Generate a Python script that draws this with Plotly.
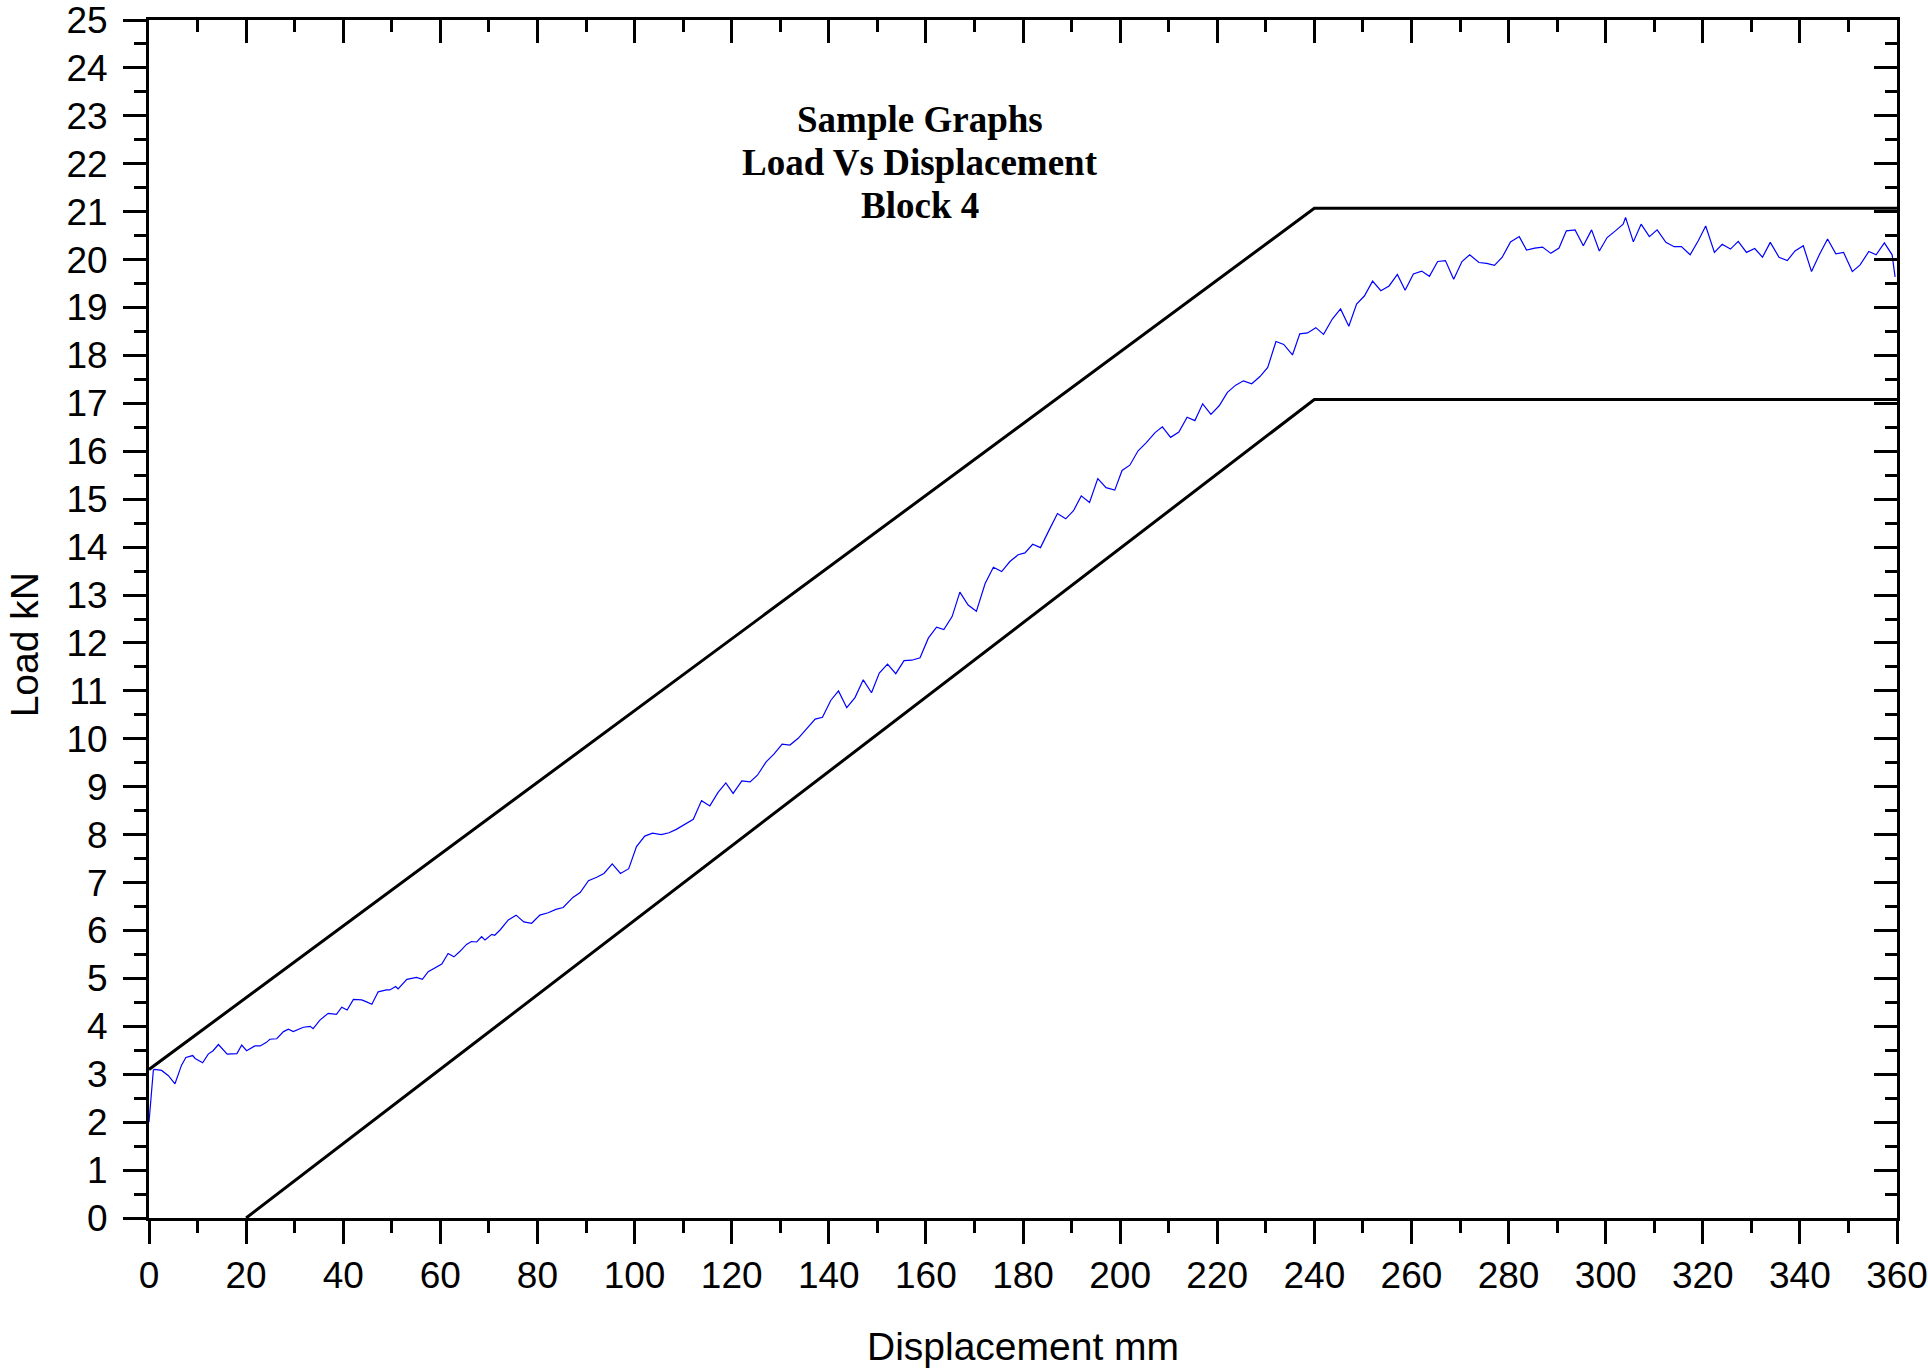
import plotly.graph_objects as go

disp = [0, 0.9, 1.2, 2.6, 4.0, 5.35, 6.7, 7.6, 9.0, 9.5, 11.05, 12.2, 13.2, 14.3, 16.1, 18.1, 19.1, 20.1,
        21.8, 22.9, 24.1, 24.9, 26.3, 27.7, 28.7, 29.7, 31.8, 33.2, 33.8, 35.2, 36.9, 38.6, 39.7, 40.8,
        42.1, 43.8, 44.8, 45.9, 47.2, 48.9, 49.6, 50.8, 51.3, 53.1, 55.1, 56.3, 57.5, 59.2, 60.3, 61.6,
        62.8, 64.0, 65.4, 66.4, 67.5, 68.5, 69.2, 70.6, 71.2, 72.3, 74.0, 75.6, 77.2, 78.8, 80.5, 82.2,
        83.8, 85.3, 87.3, 88.8, 90.5, 92.2, 93.7, 95.4, 97.1, 98.8, 100.4, 102.1, 103.7, 105.5, 107.1,
        108.6, 110.4, 112.1, 113.8, 115.5, 117.2, 118.8, 120.3, 122.1, 123.8, 125.3, 127.1, 128.7,
        130.4, 132.0, 133.7, 135.4, 137.2, 138.7, 140.4, 142.0, 143.7, 145.4, 147.1, 148.8, 150.4,
        152.1, 153.8, 155.5, 157.1, 158.8, 160.5, 162.2, 163.7, 165.4, 167.0, 168.7, 170.4, 172.2,
        173.9, 175.6, 177.3, 179.0, 180.4, 182.0, 183.6, 185.4, 187.1, 188.8, 190.4, 192.0, 193.7,
        195.4, 197.1, 198.9, 200.4, 202.0, 203.7, 205.4, 207.2, 208.7, 210.4, 212.1, 213.8, 215.4,
        217.0, 218.7, 220.4, 222.1, 223.8, 225.4, 227.1, 228.8, 230.4, 232.1, 233.7, 235.5, 237.0,
        238.6, 240.3, 241.9, 243.7, 245.4, 247.1, 248.7, 250.3, 252.0, 253.7, 255.4, 257.1, 258.7,
        260.4, 262.1, 263.7, 265.4, 267.0, 268.7, 270.4, 272.0, 273.9, 275.5, 277.1, 278.7, 280.4,
        282.2, 283.7, 285.4, 287.0, 288.7, 290.4, 291.9, 293.7, 295.4, 297.1, 298.7, 300.3, 302.0,
        303.6, 304.1, 305.7, 307.3, 309.0, 310.6, 312.4, 314.1, 315.6, 317.4, 319.1, 320.6, 322.4,
        324.0, 325.7, 327.3, 329.0, 330.7, 332.3, 333.9, 335.7, 337.4, 339.0, 340.7, 342.4, 344.0,
        345.7, 347.4, 349.0, 350.8, 352.4, 354.2, 355.7, 357.4, 359.0, 359.6]
load = [2.0, 3.09, 3.1, 3.08, 2.97, 2.80, 3.19, 3.35, 3.39, 3.33, 3.24, 3.42, 3.49, 3.62, 3.42, 3.43, 3.61, 3.49,
        3.59, 3.59, 3.66, 3.73, 3.74, 3.89, 3.94, 3.89, 3.98, 4.0, 3.95, 4.13, 4.27, 4.25, 4.40, 4.34,
        4.56, 4.55, 4.51, 4.46, 4.72, 4.76, 4.76, 4.83, 4.78, 4.98, 5.02, 4.98, 5.14, 5.23, 5.30, 5.52,
        5.45, 5.56, 5.71, 5.77, 5.76, 5.87, 5.80, 5.92, 5.90, 6.01, 6.22, 6.32, 6.18, 6.15, 6.32, 6.37,
        6.44, 6.48, 6.69, 6.79, 7.04, 7.11, 7.19, 7.39, 7.19, 7.29, 7.75, 7.97, 8.03, 8.00, 8.04,
        8.11, 8.22, 8.32, 8.71, 8.60, 8.88, 9.08, 8.86, 9.12, 9.10, 9.24, 9.52, 9.68,
        9.89, 9.87, 10.01, 10.20, 10.41, 10.45, 10.80, 11.00, 10.65, 10.86, 11.23, 10.96, 11.37,
        11.56, 11.36, 11.63, 11.64, 11.69, 12.10, 12.33, 12.28, 12.55, 13.06, 12.79, 12.66, 13.24,
        13.58, 13.49, 13.70, 13.84, 13.88, 14.06, 13.99, 14.36, 14.70, 14.59, 14.76, 15.07, 14.93,
        15.43, 15.24, 15.19, 15.60, 15.71, 16.01, 16.18, 16.39, 16.51, 16.29, 16.40, 16.71, 16.64,
        16.99, 16.77, 16.95, 17.23, 17.38, 17.47, 17.41, 17.56, 17.75, 18.29, 18.23, 18.01, 18.45,
        18.47, 18.58, 18.44, 18.76, 18.97, 18.61, 19.07, 19.24, 19.55, 19.35, 19.45, 19.69, 19.36,
        19.70, 19.76, 19.65, 19.96, 19.98, 19.59, 19.96, 20.10, 19.94, 19.92, 19.88, 20.05, 20.37,
        20.48, 20.20, 20.24, 20.26, 20.13, 20.24, 20.60, 20.62, 20.29, 20.62, 20.18, 20.46, 20.60,
        20.74, 20.88, 20.37, 20.74, 20.48, 20.62, 20.36, 20.27, 20.27, 20.10, 20.40, 20.70, 20.15,
        20.32, 20.22, 20.38, 20.15, 20.23, 20.05, 20.36, 20.05, 19.98, 20.18, 20.29, 19.75, 20.10,
        20.43, 20.12, 20.15, 19.75, 19.89, 20.17, 20.10, 20.35, 20.10, 19.64]

# Envelope lines
upper_x = [0, 240, 360]
upper_y = [3.1, 21.07, 21.07]
lower_x = [20, 240, 360]
lower_y = [0, 17.08, 17.08]

title_lines = ["Sample Graphs", "Load Vs Displacement", "Block 4"]
title_y = [22.93, 22.03, 21.12]

fig = go.Figure()
fig.add_trace(go.Scatter(x=upper_x, y=upper_y, mode="lines",
                         line=dict(color="black", width=3), showlegend=False, hoverinfo="skip"))
fig.add_trace(go.Scatter(x=lower_x, y=lower_y, mode="lines",
                         line=dict(color="black", width=3), showlegend=False, hoverinfo="skip"))
fig.add_trace(go.Scatter(x=disp, y=load, mode="lines",
                         line=dict(color="#0000ff", width=1.2), showlegend=False))
# invisible trace to activate mirror axes (top / right, ticks inside)
fig.add_trace(go.Scatter(x=[0], y=[0], xaxis="x2", yaxis="y2", mode="markers",
                         marker=dict(opacity=0), showlegend=False, hoverinfo="skip"))

tickfont = dict(family="Liberation Sans, Arial", size=37, color="black")
common = dict(showline=True, linewidth=3, linecolor="black", showgrid=False, zeroline=False,
              tickwidth=3, tickcolor="black", ticklen=23, automargin=False)

fig.update_layout(
    width=1928, height=1369,
    margin=dict(l=149, r=31, t=20, b=151),
    paper_bgcolor="white", plot_bgcolor="white",
    xaxis=dict(range=[0, 360], tickmode="linear", tick0=0, dtick=20, ticks="outside",
               tickfont=tickfont, ticklabelstandoff=0, ticklabeloverflow="allow",
               minor=dict(dtick=10, ticks="outside", ticklen=12, tickwidth=3, tickcolor="black"),
               **common),
    yaxis=dict(range=[0, 25], tickmode="linear", tick0=0, dtick=1, ticks="outside",
               tickfont=tickfont, ticklabelstandoff=8, ticklabeloverflow="allow",
               minor=dict(dtick=0.5, ticks="outside", ticklen=12, tickwidth=3, tickcolor="black"),
               **common),
    xaxis2=dict(range=[0, 360], overlaying="x", side="top", anchor="y2", tickmode="linear",
                tick0=0, dtick=20, ticks="inside", showticklabels=False,
                minor=dict(dtick=10, ticks="inside", ticklen=12, tickwidth=3, tickcolor="black"),
                **common),
    yaxis2=dict(range=[0, 25], overlaying="y", side="right", anchor="x2", tickmode="linear",
                tick0=0, dtick=1, ticks="inside", showticklabels=False,
                minor=dict(dtick=0.5, ticks="inside", ticklen=12, tickwidth=3, tickcolor="black"),
                **common),
)

for txt, yy in zip(title_lines, title_y):
    fig.add_annotation(x=158.8, y=yy, xref="x", yref="y", text="<b>" + txt + "</b>",
                       showarrow=False, xanchor="center", yanchor="middle",
                       font=dict(family="Liberation Serif, Times New Roman", size=37, color="black"))

fig.add_annotation(x=-0.0715, y=0.478, xref="paper", yref="paper", text="Load kN", textangle=-90,
                   showarrow=False, xanchor="center", yanchor="middle",
                   font=dict(family="Liberation Sans, Arial", size=39, color="black"))
fig.add_annotation(x=0.5, y=-0.107, xref="paper", yref="paper", text="Displacement mm",
                   showarrow=False, xanchor="center", yanchor="middle",
                   font=dict(family="Liberation Sans, Arial", size=39, color="black"))

fig.write_html("out.html")
